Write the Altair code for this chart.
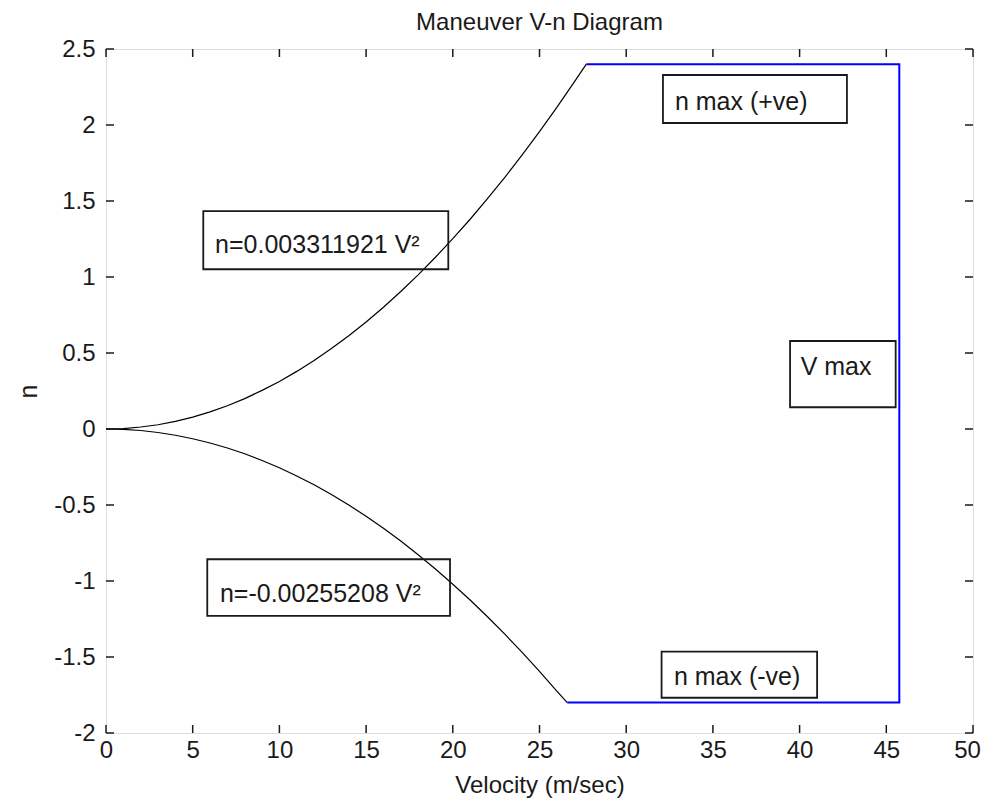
import altair as alt
import pandas as pd

FONT = "Liberation Sans"

# ---- data ----
upper_v = [0, 1, 2, 3, 4, 5, 6, 7, 8, 9, 10, 11, 12, 13, 14, 15, 16, 17, 18, 19, 20,
           21, 22, 23, 24, 25, 26, 27, 27.7]
upper_n = [0, 0.003, 0.013, 0.028, 0.050, 0.078, 0.113, 0.153, 0.200, 0.254, 0.313,
           0.379, 0.451, 0.529, 0.613, 0.704, 0.801, 0.905, 1.014, 1.130, 1.252,
           1.380, 1.515, 1.656, 1.803, 1.956, 2.116, 2.282, 2.40]

lower_v = [0, 1, 2, 3, 4, 5, 6, 7, 8, 9, 10, 11, 12, 13, 14, 15, 16, 17, 18, 19, 20,
           21, 22, 23, 24, 25, 26, 26.6]
lower_n = [0, -0.003, -0.010, -0.023, -0.041, -0.064, -0.092, -0.125, -0.163, -0.207,
           -0.255, -0.309, -0.367, -0.431, -0.500, -0.574, -0.653, -0.737, -0.827,
           -0.921, -1.021, -1.125, -1.235, -1.350, -1.469, -1.594, -1.724, -1.80]

envelope_v = [27.7, 45.75, 45.75, 26.6]
envelope_n = [2.40, 2.40, -1.80, -1.80]

label_text = ["n max (+ve)", "n=0.003311921 V\u00b2", "n=-0.00255208 V\u00b2",
              "n max (-ve)", "V max"]
label_x = [32.81, 6.29, 6.57, 32.75, 40.06]
label_y = [2.099, 1.156, -1.136, -1.684, 0.355]
box_x1 = [32.12, 5.61, 5.84, 32.04, 39.45]
box_x2 = [42.73, 19.74, 19.84, 41.01, 45.54]
box_y1 = [2.329, 1.434, -0.857, -1.465, 0.579]
box_y2 = [2.013, 1.051, -1.230, -1.768, 0.143]

x_ticks = [0, 5, 10, 15, 20, 25, 30, 35, 40, 45, 50]
y_ticks = [-2, -1.5, -1, -0.5, 0, 0.5, 1, 1.5, 2, 2.5]

W, H = 867, 684

up_df = pd.DataFrame({"v": upper_v, "n": upper_n, "o": range(len(upper_v))})
lo_df = pd.DataFrame({"v": lower_v, "n": lower_n, "o": range(len(lower_v))})
env_df = pd.DataFrame({"v": envelope_v, "n": envelope_n, "o": range(len(envelope_v))})
lab_df = pd.DataFrame({"t": label_text, "x": label_x, "y": label_y,
                       "x1": box_x1, "x2": box_x2, "y1": box_y1, "y2": box_y2})
xt_df = pd.DataFrame({"v": x_ticks})
yt_df = pd.DataFrame({"n": y_ticks})

xscale = alt.Scale(domain=[0, 50], nice=False, zero=False)
yscale = alt.Scale(domain=[-2, 2.5], nice=False, zero=False)

xaxis = alt.Axis(values=x_ticks, format="d", title="Velocity (m/sec)", grid=False,
                 domain=False, ticks=False, labelPadding=5, labelFlush=False,
                 labelOffset={"condition": {"test": "datum.value == 50", "value": -6},
                              "value": 0},
                 labelFont=FONT, labelFontSize=24, labelColor="#1a1a1a",
                 titleFont=FONT, titleFontSize=24, titleFontWeight="normal",
                 titleColor="#1a1a1a", titleX=W / 2, titleY=52,
                 titleBaseline="middle", titleAlign="center", labelOverlap=False)
yaxis = alt.Axis(values=y_ticks, format=".1~f", title="n", grid=False,
                 domain=False, ticks=False, labelPadding=11, labelFlush=False,
                 labelExpr="replace(datum.label, '\u2212', '-')",
                 labelFont=FONT, labelFontSize=24, labelColor="#1a1a1a",
                 titleFont=FONT, titleFontSize=25, titleFontWeight="normal",
                 titleColor="#1a1a1a", titleX=-78, titleY=H / 2,
                 titleBaseline="middle", titleAlign="center", titleAngle=-90,
                 labelOverlap=False)

upper = alt.Chart(up_df).mark_line(color="black", strokeWidth=1.2).encode(
    x=alt.X("v:Q", scale=xscale, axis=xaxis),
    y=alt.Y("n:Q", scale=yscale, axis=yaxis),
    order="o:Q")
lower = alt.Chart(lo_df).mark_line(color="black", strokeWidth=1.2).encode(
    x=alt.X("v:Q"), y=alt.Y("n:Q"), order="o:Q")
env = alt.Chart(env_df).mark_line(color="#0000ff", strokeWidth=2).encode(
    x=alt.X("v:Q"), y=alt.Y("n:Q"), order="o:Q")

boxes = alt.Chart(lab_df).mark_rect(fill=None, stroke="#1a1a1a", strokeWidth=1.8).encode(
    x=alt.X("x1:Q"), x2="x2:Q", y=alt.Y("y1:Q"), y2="y2:Q")
texts = alt.Chart(lab_df).mark_text(font=FONT, fontSize=25, align="left",
                                    baseline="alphabetic", color="#1a1a1a").encode(
    x=alt.X("x:Q"), y=alt.Y("y:Q"), text="t:N")

tk = dict(color="#1a1a1a", strokeWidth=1.5)
t_bottom = alt.Chart(xt_df).mark_rule(**tk).encode(
    x=alt.X("v:Q"), y=alt.value(H), y2=alt.value(H - 8))
t_top = alt.Chart(xt_df).mark_rule(**tk).encode(
    x=alt.X("v:Q"), y=alt.value(0), y2=alt.value(8))
t_left = alt.Chart(yt_df).mark_rule(**tk).encode(
    y=alt.Y("n:Q"), x=alt.value(0), x2=alt.value(8))
t_right = alt.Chart(yt_df).mark_rule(**tk).encode(
    y=alt.Y("n:Q"), x=alt.value(W), x2=alt.value(W - 8))

chart = alt.layer(upper, lower, env, boxes, texts, t_bottom, t_top, t_left, t_right).properties(
    width=W, height=H,
    title=alt.TitleParams("Maneuver V-n Diagram", font=FONT, fontSize=24,
                          fontWeight="normal", color="#1a1a1a", offset=2),
    autosize=alt.AutoSizeParams(type="none"),
    padding={"left": 98, "top": 41, "right": 8, "bottom": 66},
).configure_view(stroke="#1a1a1a", strokeWidth=1.5).configure(background="white")

chart.save("out.html", embed_options={"renderer": "svg", "actions": False})
